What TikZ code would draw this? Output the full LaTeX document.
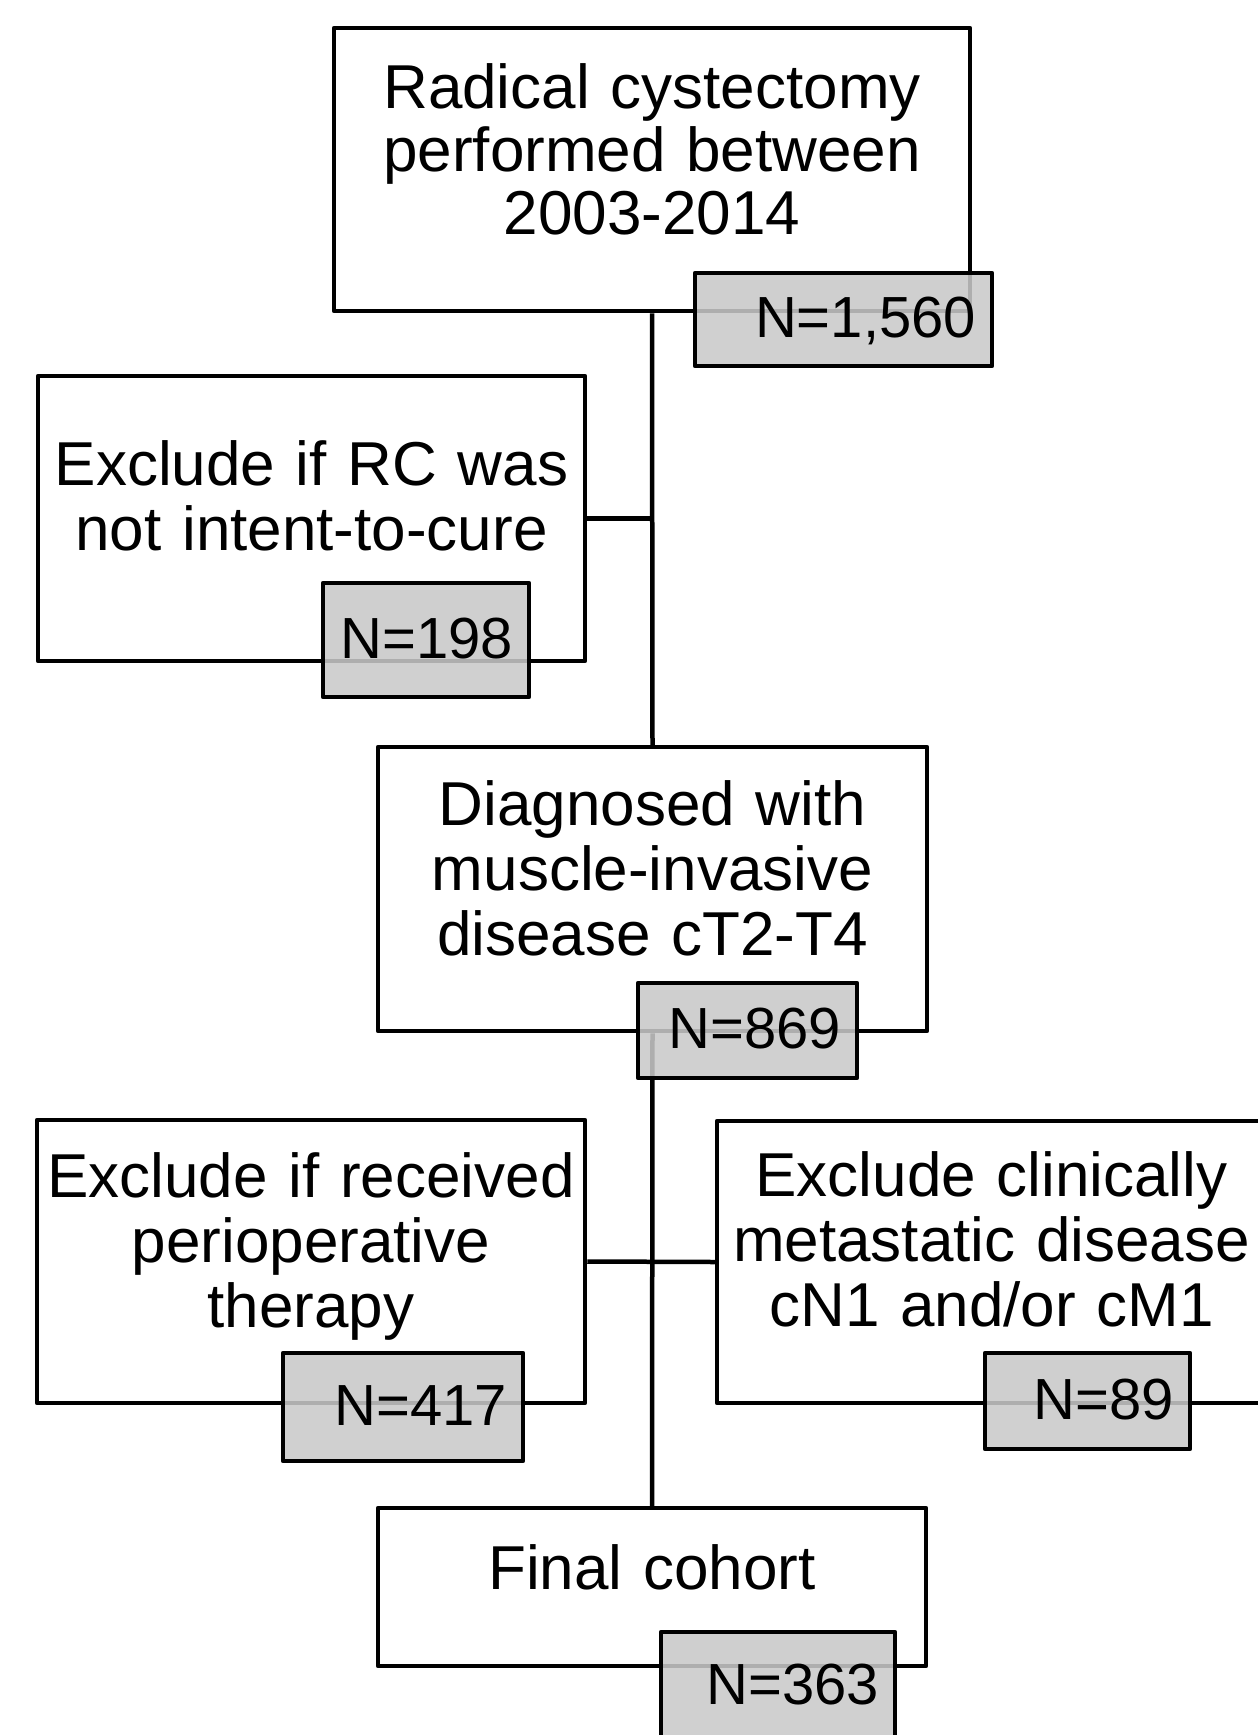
\documentclass[tikz,border=0pt]{standalone}
\usepackage{fontspec}
\setmainfont{Liberation Sans}
\definecolor{nfill}{RGB}{201,201,201}
\tikzset{
  mainbox/.style={draw=black, line width=4.5pt, line join=round, fill=white, inner sep=0pt},
  txt/.style={font=\fontsize{62}{65}\selectfont, align=center, text width=640pt, inner sep=0pt},
  toptxt/.style={txt, font=\fontsize{62}{63}\selectfont},
  nbox/.style={draw=black, line width=4.5pt, line join=round, fill=nfill, fill opacity=0.87, text opacity=1,
    font=\fontsize{58}{60}\selectfont, text height=42pt, text depth=6pt, inner xsep=16pt, inner ysep=0pt, align=right},
  link/.style={draw=black, line width=4.5pt, line cap=butt}
}
\begin{document}
\begin{tikzpicture}[x=1pt,y=-1pt]
\useasboundingbox (0,0) rectangle (1258,1735);
\clip (0,0) rectangle (1258,1735);
% main boxes
\node[mainbox, minimum width=636pt, minimum height=283pt] (b1) at (652,169.5) {};
\node[mainbox, minimum width=547pt, minimum height=285pt] (b2) at (311.5,518.5) {};
\node[mainbox, minimum width=549pt, minimum height=284pt] (b3) at (652.5,889) {};
\node[mainbox, minimum width=548pt, minimum height=283pt] (b4) at (311,1261.5) {};
\node[mainbox, minimum width=549pt, minimum height=282pt] (b5) at (991.5,1262) {};
\node[mainbox, minimum width=548pt, minimum height=158pt] (b6) at (652,1587) {};
% texts
\node[toptxt, anchor=base, yshift=-83pt] (t1) at (b1.north) {Radical cystectomy\\performed between\\2003-2014};
\node[txt, anchor=base, yshift=-112pt] (t2) at (b2.north) {Exclude if RC was\\not intent-to-cure};
\node[txt, anchor=base, yshift=-81pt] (t3) at (b3.north) {Diagnosed with\\muscle-invasive\\disease cT2-T4};
\node[txt, anchor=base, yshift=-80pt] (t4) at (b4.north) {Exclude if received\\perioperative\\therapy};
\node[txt, anchor=base, yshift=-78pt] (t5) at (b5.north) {Exclude clinically\\metastatic disease\\cN1 and/or cM1};
\node[txt, anchor=base, yshift=-84pt] (t6) at (b6.north) {Final cohort};
% connectors
\coordinate (j1) at (b2.east -| b1.south);
\draw[link] (b1.south) -- (b3.north);
\draw[link] (b2.east) -- (j1);
\draw[link] (b3.south) -- (b6.north);
\draw[link] (b4.east) -- (b5.west);
% count boxes
\node[nbox, minimum width=297pt, minimum height=93pt, text width=265pt] (n1) at (843.5,319.5) {N=1,560};
\node[nbox, minimum width=206pt, minimum height=114pt, text width=174pt] (n2) at (426,640) {N=198};
\node[nbox, minimum width=219pt, minimum height=95pt, text width=187pt] (n3) at (747.5,1030.5) {N=869};
\node[nbox, minimum width=240pt, minimum height=108pt, text width=208pt] (n4) at (403,1407) {N=417};
\node[nbox, minimum width=205pt, minimum height=96pt, text width=173pt] (n5) at (1087.5,1401) {N=89};
\node[nbox, minimum width=234pt, minimum height=108pt, text width=202pt] (n6) at (778,1686) {N=363};
\end{tikzpicture}
\end{document}
